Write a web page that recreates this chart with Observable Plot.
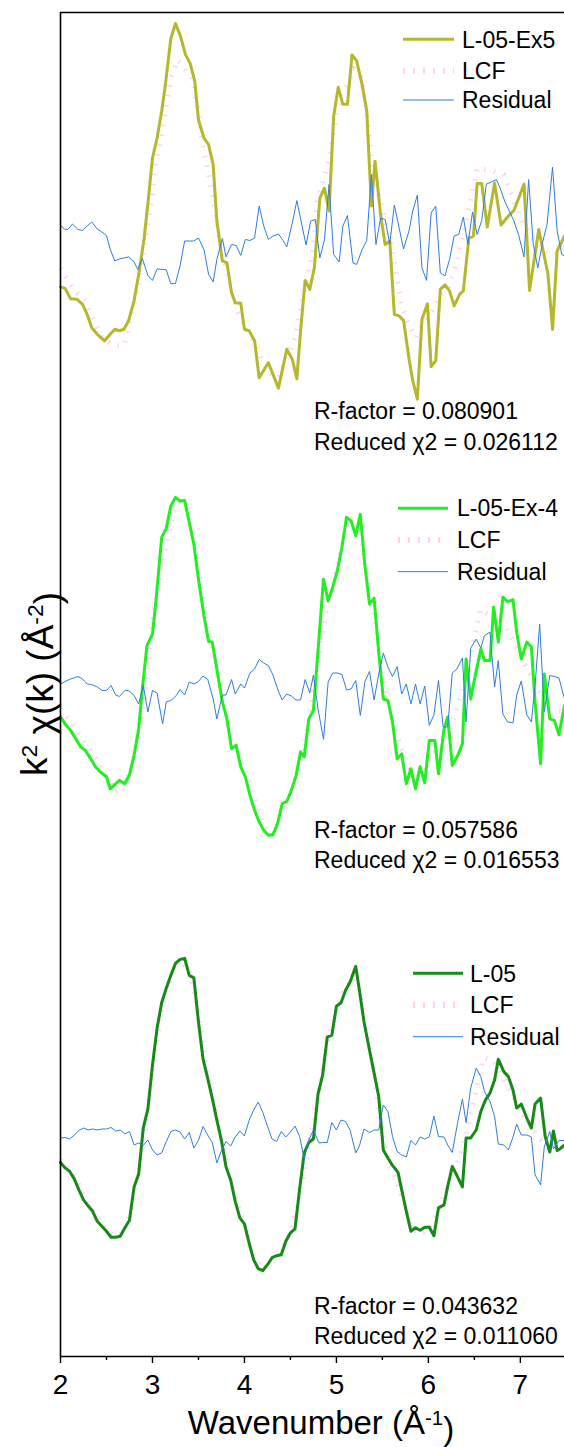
<!DOCTYPE html>
<html><head><meta charset="utf-8">
<script src="https://cdn.jsdelivr.net/npm/d3@7"></script>
<script src="https://cdn.jsdelivr.net/npm/@observablehq/plot@0.6"></script>
<style>
html,body{margin:0;padding:0;background:#fff;}
#chart svg{display:block;}
</style></head><body><div id="chart"></div>
<script>
// ---------------- DATA ----------------
const panels = ["L-05-Ex5", "L-05-Ex-4", "L-05"];
const rFactors = ["0.080901", "0.057586", "0.043632"];
const reducedChi2 = ["0.026112", "0.016553", "0.011060"];
const seriesNames = ["LCF", "Residual"];
const xTicks = [2, 3, 4, 5, 6, 7];
const xMinorTicks = [2.5, 3.5, 4.5, 5.5, 6.5, 7.5];

// [k (Å^-1), k^2 chi(k)] (arbitrary offset units, per panel)
const ex5Data = [[2.00,-1.01],[2.05,-1.04],[2.11,-1.25],[2.18,-1.26],[2.24,-1.36],[2.29,-1.56],[2.34,-1.83],[2.40,-1.96],[2.48,-2.09],[2.54,-1.96],[2.59,-1.86],[2.64,-1.89],[2.69,-1.86],[2.74,-1.69],[2.80,-1.29],[2.85,-0.76],[2.91,-0.03],[2.96,0.84],[3.00,1.57],[3.05,1.97],[3.10,2.51],[3.14,3.04],[3.20,3.97],[3.25,4.27],[3.30,4.04],[3.36,3.64],[3.41,3.47],[3.46,3.11],[3.50,2.34],[3.56,1.97],[3.61,1.84],[3.66,1.44],[3.70,0.31],[3.76,-0.49],[3.81,-0.53],[3.86,-1.13],[3.90,-1.33],[3.96,-1.34],[4.00,-1.86],[4.05,-1.89],[4.11,-2.09],[4.16,-2.83],[4.26,-2.53],[4.37,-3.04],[4.46,-2.26],[4.52,-2.46],[4.57,-2.85],[4.61,-1.89],[4.66,-0.88],[4.71,-1.06],[4.76,-0.63],[4.82,0.77],[4.87,0.97],[4.92,0.51],[4.97,2.41],[5.02,2.99],[5.07,2.65],[5.12,2.65],[5.17,3.64],[5.22,3.52],[5.28,3.04],[5.33,2.51],[5.38,0.61],[5.42,1.51],[5.48,0.44],[5.53,-0.16],[5.58,-0.09],[5.63,-1.56],[5.68,-1.59],[5.73,-1.68],[5.79,-2.46],[5.83,-2.89],[5.88,-3.26],[5.93,-1.66],[5.99,-1.35],[6.03,-2.61],[6.08,-2.49],[6.13,-1.06],[6.18,-0.97],[6.23,-1.09],[6.28,-1.39],[6.34,-1.16],[6.38,-1.09],[6.44,-0.03],[6.49,0.01],[6.53,1.06],[6.58,1.06],[6.64,0.19],[6.72,1.07],[6.79,0.23],[6.87,0.41],[6.93,0.52],[7.04,1.05],[7.10,-1.08],[7.20,0.14],[7.30,-0.75],[7.35,-1.86],[7.40,-0.29],[7.48,0.01]];
const ex5LCF = [[2.00,-0.63],[2.09,-0.93],[2.16,-1.09],[2.27,-1.29],[2.36,-1.69],[2.45,-2.03],[2.58,-2.19],[2.69,-2.19],[2.72,-1.99],[2.82,-1.16],[2.89,-0.56],[2.94,0.17],[3.00,0.81],[3.03,1.44],[3.11,2.11],[3.16,2.74],[3.20,3.17],[3.27,3.54],[3.32,3.44],[3.43,3.17],[3.49,2.57],[3.54,1.91],[3.61,1.24],[3.65,0.84],[3.72,0.04],[3.79,-0.56],[3.85,-0.99],[3.92,-1.49],[4.01,-1.79],[4.08,-2.03],[4.14,-2.23],[4.19,-2.49],[4.30,-2.79],[4.37,-2.83],[4.48,-2.36],[4.55,-2.03],[4.63,-1.29],[4.70,-0.63],[4.75,-0.20],[4.79,0.71],[4.86,1.11],[4.94,1.71],[4.99,2.37],[5.04,2.84],[5.12,3.04],[5.19,3.37],[5.26,3.24],[5.33,2.51],[5.37,1.71],[5.42,1.11],[5.50,0.57],[5.57,0.04],[5.64,-0.63],[5.70,-1.29],[5.77,-1.69],[5.86,-2.03],[5.95,-1.69],[6.04,-1.49],[6.13,-1.16],[6.22,-1.03],[6.31,-0.49],[6.38,0.04],[6.46,0.71],[6.53,1.37],[6.62,1.34],[6.71,1.31],[6.82,1.24],[6.93,0.71],[7.02,0.31],[7.11,0.04],[7.20,-0.23],[7.29,-0.36],[7.38,-0.36],[7.47,-0.23]];
const ex5Residual = [[2.00,0.23],[2.04,0.15],[2.08,0.14],[2.13,0.25],[2.19,0.14],[2.24,0.12],[2.29,0.21],[2.34,0.29],[2.40,0.15],[2.45,0.09],[2.50,0.02],[2.54,-0.25],[2.59,-0.49],[2.64,-0.45],[2.69,-0.43],[2.74,-0.41],[2.80,-0.51],[2.84,-0.66],[2.89,-0.44],[2.95,-0.78],[3.00,-0.88],[3.05,-0.65],[3.11,-0.66],[3.15,-0.67],[3.20,-0.95],[3.25,-0.94],[3.30,-0.59],[3.35,-0.09],[3.40,-0.09],[3.45,-0.09],[3.50,-0.03],[3.56,-0.26],[3.61,-0.76],[3.66,-0.91],[3.70,-0.46],[3.76,-0.04],[3.80,-0.41],[3.86,-0.16],[3.91,-0.18],[3.96,-0.38],[4.01,-0.06],[4.06,-0.08],[4.11,-0.03],[4.16,0.61],[4.21,0.21],[4.26,-0.06],[4.31,0.01],[4.37,0.05],[4.42,-0.08],[4.46,-0.21],[4.52,0.27],[4.57,0.72],[4.62,0.27],[4.67,-0.17],[4.72,0.31],[4.77,0.34],[4.82,-0.43],[4.87,-0.06],[4.92,1.04],[4.97,-0.36],[5.03,-0.51],[5.07,0.21],[5.12,0.42],[5.18,-0.53],[5.22,-0.56],[5.28,-0.26],[5.33,-0.08],[5.38,1.24],[5.43,-0.16],[5.48,0.37],[5.53,0.34],[5.58,-0.15],[5.63,0.63],[5.68,0.19],[5.73,-0.25],[5.79,0.12],[5.83,0.51],[5.88,0.83],[5.93,-0.63],[5.98,-0.88],[6.03,0.47],[6.08,0.61],[6.13,-0.73],[6.18,-0.79],[6.23,-0.46],[6.28,0.01],[6.33,0.04],[6.38,0.39],[6.43,-0.16],[6.48,0.49],[6.53,0.04],[6.58,0.32],[6.63,1.05],[6.68,1.09],[6.74,1.14],[6.78,0.97],[6.83,0.71],[6.88,0.51],[6.93,0.31],[6.98,0.04],[7.04,-0.41],[7.09,1.14],[7.14,-0.15],[7.19,-0.63],[7.24,-0.13],[7.29,0.24],[7.35,1.39],[7.40,0.11],[7.45,-0.36],[7.48,-0.39]];

const ex4Data = [[2.00,-0.65],[2.05,-0.79],[2.11,-0.92],[2.16,-1.07],[2.22,-1.25],[2.27,-1.32],[2.33,-1.49],[2.38,-1.65],[2.43,-1.75],[2.50,-1.85],[2.54,-2.09],[2.60,-1.99],[2.64,-1.92],[2.70,-1.99],[2.75,-1.81],[2.80,-1.42],[2.85,-0.89],[2.89,-0.09],[2.94,0.78],[3.00,1.01],[3.04,1.71],[3.10,2.95],[3.15,3.13],[3.20,3.58],[3.25,3.75],[3.30,3.68],[3.35,3.69],[3.40,3.25],[3.45,2.81],[3.50,2.11],[3.56,1.38],[3.61,0.86],[3.65,0.85],[3.70,0.31],[3.76,-0.35],[3.81,-0.69],[3.86,-1.29],[3.91,-1.22],[3.96,-1.65],[4.01,-1.85],[4.06,-2.22],[4.11,-2.52],[4.16,-2.75],[4.21,-2.92],[4.26,-3.02],[4.31,-3.01],[4.36,-2.79],[4.41,-2.39],[4.46,-2.35],[4.51,-2.12],[4.56,-1.84],[4.61,-1.35],[4.65,-1.45],[4.70,-0.69],[4.75,-0.52],[4.86,2.11],[4.91,1.68],[4.96,1.95],[5.01,2.28],[5.06,2.75],[5.11,3.35],[5.16,3.28],[5.21,2.98],[5.26,3.41],[5.31,2.38],[5.36,1.61],[5.41,1.73],[5.46,0.65],[5.51,-0.29],[5.56,-0.32],[5.61,-0.75],[5.66,-1.49],[5.71,-1.39],[5.76,-1.99],[5.81,-1.69],[5.86,-2.09],[5.91,-1.65],[5.96,-1.97],[6.01,-1.12],[6.07,-1.12],[6.11,-1.79],[6.17,-0.89],[6.21,-0.65],[6.26,-1.62],[6.32,-1.42],[6.37,-1.19],[6.41,0.51],[6.46,-0.29],[6.51,0.18],[6.57,0.71],[6.61,0.48],[6.67,0.48],[6.71,1.55],[6.76,0.85],[6.81,1.75],[6.86,1.66],[6.92,1.70],[6.96,1.05],[7.01,0.51],[7.07,0.85],[7.12,0.75],[7.16,-0.35],[7.22,-1.59],[7.26,0.21],[7.32,-0.69],[7.37,-0.72],[7.42,-1.01],[7.48,-0.42]];
const ex4LCF = [[2.00,-0.49],[2.16,-0.89],[2.31,-1.29],[2.45,-1.69],[2.60,-2.15],[2.69,-2.05],[2.78,-1.62],[2.87,-0.82],[2.95,0.28],[3.01,1.38],[3.10,2.38],[3.16,2.91],[3.23,3.45],[3.30,3.65],[3.38,3.51],[3.45,2.91],[3.52,2.05],[3.59,1.25],[3.67,0.58],[3.74,-0.09],[3.81,-0.75],[3.90,-1.29],[4.01,-1.75],[4.12,-2.35],[4.21,-2.82],[4.30,-3.02],[4.40,-2.62],[4.48,-2.35],[4.55,-1.95],[4.63,-1.42],[4.70,-0.75],[4.75,-0.09],[4.83,0.85],[4.90,1.58],[4.97,2.05],[5.04,2.65],[5.12,3.18],[5.19,3.25],[5.26,3.05],[5.33,2.18],[5.41,1.38],[5.48,0.45],[5.55,-0.22],[5.62,-0.75],[5.70,-1.29],[5.80,-1.69],[5.91,-1.82],[6.02,-1.42],[6.13,-1.29],[6.24,-0.89],[6.35,-0.22],[6.46,0.58],[6.57,1.51],[6.67,1.38],[6.78,1.38],[6.89,0.98],[7.00,0.58],[7.11,0.18],[7.22,-0.22],[7.33,-0.49],[7.47,-0.55]];
const ex4Residual = [[2.00,0.01],[2.05,0.06],[2.11,0.11],[2.19,0.16],[2.24,0.11],[2.29,0.01],[2.34,0.00],[2.40,-0.05],[2.45,-0.12],[2.50,-0.12],[2.55,-0.02],[2.60,-0.21],[2.64,-0.24],[2.70,-0.12],[2.74,-0.12],[2.80,-0.22],[2.85,-0.39],[2.90,-0.02],[2.95,-0.55],[3.00,-0.12],[3.05,-0.17],[3.11,-0.79],[3.15,-0.35],[3.20,-0.32],[3.26,-0.22],[3.30,-0.10],[3.35,-0.21],[3.40,0.05],[3.45,0.01],[3.50,0.06],[3.55,0.17],[3.60,0.11],[3.66,-0.29],[3.70,-0.69],[3.76,-0.21],[3.80,-0.21],[3.86,0.10],[3.90,-0.19],[3.96,0.01],[4.00,-0.07],[4.06,0.23],[4.11,0.31],[4.16,0.50],[4.21,0.43],[4.26,0.38],[4.31,0.19],[4.36,-0.09],[4.41,-0.31],[4.46,-0.19],[4.51,-0.23],[4.56,-0.31],[4.61,-0.31],[4.66,0.10],[4.71,-0.17],[4.75,0.19],[4.80,-0.49],[4.86,-1.10],[4.91,0.05],[4.96,0.23],[5.01,0.23],[5.06,0.20],[5.11,-0.11],[5.16,-0.09],[5.21,0.08],[5.26,-0.62],[5.31,0.06],[5.36,0.26],[5.41,-0.31],[5.46,0.21],[5.51,0.63],[5.56,0.35],[5.61,0.16],[5.66,0.36],[5.71,-0.19],[5.76,0.01],[5.81,-0.39],[5.86,0.01],[5.91,-0.39],[5.96,-0.03],[6.01,-0.82],[6.06,-0.61],[6.11,0.08],[6.16,-0.85],[6.21,-0.85],[6.26,0.23],[6.31,0.31],[6.37,0.53],[6.41,-0.75],[6.46,0.73],[6.52,0.91],[6.57,0.73],[6.61,0.98],[6.67,1.05],[6.72,-0.05],[6.76,0.48],[6.81,-0.59],[6.86,-0.75],[6.92,-0.77],[6.96,-0.21],[7.01,0.07],[7.07,-0.61],[7.12,-0.75],[7.16,-0.02],[7.21,1.21],[7.26,-0.54],[7.32,0.18],[7.37,0.16],[7.42,0.13],[7.48,-0.29]];

const l05Data = [[2.00,-0.60],[2.05,-0.71],[2.10,-0.78],[2.15,-0.93],[2.20,-1.15],[2.25,-1.35],[2.30,-1.47],[2.35,-1.58],[2.40,-1.78],[2.45,-1.88],[2.50,-1.98],[2.55,-2.10],[2.60,-2.10],[2.65,-2.08],[2.70,-1.91],[2.75,-1.76],[2.80,-1.09],[2.85,-0.83],[2.90,0.09],[2.95,0.47],[3.00,1.35],[3.05,2.09],[3.10,2.60],[3.15,2.89],[3.20,3.15],[3.25,3.39],[3.30,3.47],[3.35,3.49],[3.40,3.15],[3.45,3.10],[3.50,2.22],[3.55,1.47],[3.60,1.09],[3.65,0.69],[3.70,0.25],[3.75,-0.16],[3.80,-0.69],[3.85,-0.95],[3.90,-1.38],[3.95,-1.71],[4.00,-1.83],[4.05,-2.21],[4.10,-2.55],[4.15,-2.73],[4.20,-2.77],[4.25,-2.65],[4.30,-2.51],[4.35,-2.47],[4.40,-2.45],[4.45,-2.18],[4.50,-2.01],[4.55,-1.93],[4.60,-1.13],[4.65,-0.41],[4.70,-0.20],[4.75,-0.13],[4.80,0.77],[4.85,1.15],[4.90,1.91],[4.95,1.95],[5.00,2.53],[5.05,2.60],[5.10,2.85],[5.15,3.02],[5.21,3.33],[5.25,2.85],[5.30,2.22],[5.36,1.65],[5.41,1.19],[5.46,0.72],[5.51,-0.35],[5.56,-0.51],[5.61,-0.66],[5.67,-0.80],[5.71,-1.15],[5.76,-1.58],[5.81,-1.98],[5.86,-1.91],[5.91,-1.96],[5.96,-1.90],[6.01,-1.90],[6.06,-2.07],[6.11,-1.51],[6.17,-1.45],[6.21,-1.08],[6.26,-0.68],[6.32,-0.90],[6.37,-1.09],[6.41,-0.11],[6.46,-0.11],[6.52,0.05],[6.57,0.42],[6.62,0.65],[6.67,0.79],[6.72,1.05],[6.76,1.47],[6.82,1.22],[6.87,1.12],[6.92,0.85],[6.96,0.49],[7.01,0.57],[7.07,0.29],[7.12,0.09],[7.16,0.57],[7.22,0.69],[7.27,-0.08],[7.32,-0.39],[7.36,0.03],[7.40,-0.36],[7.43,-0.33],[7.48,-0.25]];
const l05LCF = [[2.00,-0.55],[2.10,-0.75],[2.20,-1.05],[2.30,-1.40],[2.40,-1.70],[2.50,-1.95],[2.60,-2.10],[2.70,-1.98],[2.80,-1.35],[2.90,-0.20],[3.00,1.20],[3.10,2.50],[3.20,3.10],[3.30,3.45],[3.40,3.25],[3.50,2.40],[3.60,1.20],[3.70,0.30],[3.80,-0.60],[3.90,-1.30],[4.00,-1.85],[4.10,-2.45],[4.20,-2.75],[4.30,-2.60],[4.40,-2.35],[4.50,-2.00],[4.60,-1.30],[4.70,-0.25],[4.80,0.70],[4.90,1.80],[5.00,2.50],[5.10,2.90],[5.20,3.20],[5.30,2.40],[5.40,1.30],[5.50,0.00],[5.60,-0.70],[5.70,-1.20],[5.80,-1.85],[5.90,-2.05],[6.00,-1.95],[6.10,-1.60],[6.20,-1.10],[6.30,-0.70],[6.40,-0.10],[6.50,0.70],[6.60,1.50],[6.70,1.45],[6.80,1.15],[6.90,0.80],[7.00,0.45],[7.10,0.15],[7.20,-0.10],[7.30,-0.30],[7.40,-0.35],[7.48,-0.30]];
const l05Residual = [[2.00,-0.11],[2.05,-0.10],[2.10,-0.13],[2.15,-0.05],[2.20,0.04],[2.25,0.09],[2.30,0.05],[2.35,0.07],[2.40,0.05],[2.45,0.07],[2.50,0.07],[2.55,0.10],[2.60,0.03],[2.65,0.05],[2.70,-0.03],[2.75,0.02],[2.80,-0.25],[2.85,-0.21],[2.90,-0.26],[2.95,-0.15],[3.00,-0.35],[3.05,-0.45],[3.10,-0.41],[3.15,-0.18],[3.20,0.02],[3.25,0.05],[3.30,0.01],[3.35,-0.13],[3.40,0.00],[3.45,-0.31],[3.50,-0.16],[3.55,0.12],[3.60,-0.05],[3.65,-0.20],[3.70,-0.61],[3.75,-0.36],[3.80,-0.18],[3.85,-0.27],[3.90,-0.09],[3.95,0.03],[4.00,-0.07],[4.05,0.24],[4.10,0.45],[4.15,0.61],[4.20,0.40],[4.25,0.13],[4.30,-0.13],[4.35,-0.18],[4.40,0.02],[4.45,-0.09],[4.50,0.01],[4.55,0.13],[4.60,-0.08],[4.65,-0.53],[4.70,-0.15],[4.75,0.05],[4.81,-0.21],[4.85,-0.20],[4.90,-0.20],[4.95,0.20],[5.00,0.05],[5.05,0.25],[5.10,0.22],[5.15,0.04],[5.21,-0.41],[5.25,-0.27],[5.30,0.07],[5.36,0.00],[5.41,0.05],[5.46,0.05],[5.51,0.55],[5.56,0.42],[5.61,-0.08],[5.66,-0.38],[5.71,-0.45],[5.76,-0.49],[5.81,-0.16],[5.86,-0.25],[5.91,-0.09],[5.96,-0.13],[6.01,-0.09],[6.06,0.33],[6.11,-0.08],[6.17,-0.09],[6.21,-0.25],[6.26,-0.40],[6.32,0.22],[6.37,0.67],[6.41,0.20],[6.46,0.89],[6.52,1.29],[6.57,1.12],[6.61,0.82],[6.67,0.62],[6.72,0.32],[6.76,-0.23],[6.82,-0.25],[6.87,-0.35],[6.92,-0.09],[6.96,0.17],[7.01,-0.05],[7.07,-0.05],[7.12,-0.09],[7.16,-0.85],[7.22,-1.05],[7.26,-0.29],[7.32,0.02],[7.36,-0.33],[7.42,-0.16],[7.48,-0.16]];

// ---------------- STYLE / LAYOUT ----------------
const panelColors = ["#b5b72c", "#22ee22", "#188a18"];
const lcfColor = "#ffd2f4";
const resColor = "#2f7de1";
const W = 564, H = 1447, mt = 11, mb = 90, ml = 60, mr = 0;
const xDomain = [2, 7.48];
const yDomain = [-4.49, 4.49];
const font = "'Liberation Sans', Arial, Helvetica, sans-serif";
const legendLayout = [
  {rows: [28.3, 59.7, 89], x0: 403, x1: 454, tx: 462},
  {rows: [48.6, 80.3, 112], x0: 398, x1: 448, tx: 457},
  {rows: [65, 96.7, 128.4], x0: 413, x1: 463, tx: 470}
];
const statsLayout = [{x: 314, rows: [400, 431]}, {x: 314, rows: [370, 400]}, {x: 314, rows: [397, 427]}];

// ---------------- BUILD ----------------
const toRows = (arr, panel) => arr.map(([k, v]) => ({k, v, panel}));
const mainRows = [...toRows(ex5Data, panels[0]), ...toRows(ex4Data, panels[1]), ...toRows(l05Data, panels[2])];
const lcfRows = [...toRows(ex5LCF, panels[0]), ...toRows(ex4LCF, panels[1]), ...toRows(l05LCF, panels[2])];
const resRows = [...toRows(ex5Residual, panels[0]), ...toRows(ex4Residual, panels[1]), ...toRows(l05Residual, panels[2])];

const svg = Plot.plot({
  width: W, height: H,
  marginTop: mt, marginBottom: mb, marginLeft: ml, marginRight: mr,
  style: {fontFamily: font, background: "white", color: "black", fontSize: "28px"},
  x: {domain: xDomain},
  y: {domain: yDomain, axis: null},
  fy: {domain: panels, axis: null, padding: 0},
  color: {domain: panels, range: panelColors},
  marks: [
    Plot.line(lcfRows, {x: "k", y: "v", fy: "panel", stroke: lcfColor, strokeWidth: 5, strokeDasharray: "1.5,8.5", strokeLinecap: "butt"}),
    Plot.line(mainRows, {x: "k", y: "v", fy: "panel", stroke: "panel", strokeWidth: 3}),
    Plot.line(resRows, {x: "k", y: "v", fy: "panel", stroke: resColor, strokeWidth: 1}),
    Plot.ruleX(panels.map(p => ({panel: p, k: xDomain[0]})), {x: "k", fy: "panel", stroke: "black", strokeWidth: 1.6}),
    Plot.ruleY([{panel: panels[0], v: yDomain[1]}], {y: "v", fy: "panel", stroke: "black", strokeWidth: 1.6}),
    Plot.ruleY([{panel: panels[2], v: yDomain[0]}], {y: "v", fy: "panel", stroke: "black", strokeWidth: 1.6}),
    Plot.axisX({ticks: xTicks, tickSize: 7, tickPadding: 11, tickFormat: d3.format("d"), label: null, fontSize: 28, strokeWidth: 1.4}),
    Plot.axisX({ticks: xMinorTicks, tickSize: 4, tickFormat: () => "", label: null, strokeWidth: 1.4})
  ]
});
document.getElementById("chart").appendChild(svg);

// ---------------- TEXT / LEGENDS ----------------
const root = d3.select(svg);
const fh = (H - mt - mb) / 3;
const ann = root.append("g").attr("font-family", font).attr("fill", "black").attr("text-anchor", "start");

panels.forEach((p, i) => {
  const top = mt + i * fh;
  const L = legendLayout[i];
  const g = ann.append("g");
  g.append("line").attr("x1", L.x0).attr("x2", L.x1).attr("y1", top + L.rows[0]).attr("y2", top + L.rows[0])
    .attr("stroke", panelColors[i]).attr("stroke-width", 3);
  g.append("line").attr("x1", L.x0).attr("x2", L.x1).attr("y1", top + L.rows[1]).attr("y2", top + L.rows[1])
    .attr("stroke", lcfColor).attr("stroke-width", 6).attr("stroke-dasharray", "2,8");
  g.append("line").attr("x1", L.x0).attr("x2", L.x1).attr("y1", top + L.rows[2]).attr("y2", top + L.rows[2])
    .attr("stroke", resColor).attr("stroke-width", 1);
  [p, seriesNames[0], seriesNames[1]].forEach((t, j) => {
    g.append("text").attr("x", L.tx).attr("y", top + L.rows[j] + 8.2).attr("font-size", 23)
      .attr("text-anchor", "start").text(t);
  });
  const S = statsLayout[i];
  ann.append("text").attr("x", S.x).attr("y", top + S.rows[0] + 8.2).attr("font-size", 23)
    .attr("text-anchor", "start").text("R-factor = " + rFactors[i]);
  ann.append("text").attr("x", S.x).attr("y", top + S.rows[1] + 8.2).attr("font-size", 23)
    .attr("text-anchor", "start").text("Reduced \u03c72 = " + reducedChi2[i]);
});

// x-axis title
const xt = ann.append("text").attr("x", 321).attr("y", 1434).attr("text-anchor", "middle").attr("font-size", 33);
xt.append("tspan").text("Wavenumber (\u00c5");
xt.append("tspan").attr("dy", "-0.45em").attr("font-size", "0.62em").text("-1");
xt.append("tspan").attr("dy", "0.45em").text(")");

// y-axis title
const yt = ann.append("text").attr("transform", `translate(47,${mt + 1.5 * fh}) rotate(-90)`)
  .attr("text-anchor", "middle").attr("font-size", 37);
yt.append("tspan").text("k");
yt.append("tspan").attr("dy", "-0.45em").attr("font-size", "0.62em").text("2");
yt.append("tspan").attr("dy", "0.45em").text(" \u03c7(k) (\u00c5");
yt.append("tspan").attr("dy", "-0.45em").attr("font-size", "0.62em").text("-2");
yt.append("tspan").attr("dy", "0.45em").text(")");
</script>
</body></html>
